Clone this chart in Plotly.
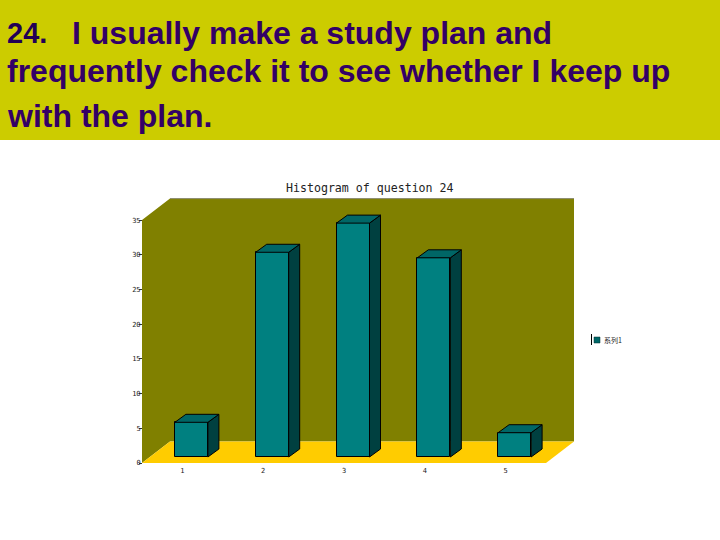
import plotly.graph_objects as go

# Data
categories = [1, 2, 3, 4, 5]
values = [5.0, 29.5, 33.7, 28.7, 3.5]
y_ticks = [0, 5, 10, 15, 20, 25, 30, 35]
series_name = "系列1"
title = "Histogram of question 24"
heading_lines = ["I usually make a study plan and",
                 "frequently check it to see whether I keep up",
                 "with the plan."]
heading_number = "24."

# Pseudo-3D projection, in axis units
UX, UY = 80.8, 6.94          # pixels per axis unit
WALL_DX, WALL_DY = 28 / UX, 21.5 / UY   # depth of the whole box
BAR_X, BAR_Y = 9 / UX, 6 / UY           # bar front plane offset
BAR_DX, BAR_DY = 11 / UX, 8 / UY        # bar depth
BAR_W = 33 / UX
X0, X1, YMAX = 0.5, 5.5, 35

def path(pts):
    return "M " + " L ".join(f"{x:.4f},{y:.4f}" for x, y in pts) + " Z"

fig = go.Figure()

# heading band
shapes = [dict(type="rect", xref="paper", yref="paper", x0=0, x1=1, y0=400 / 540, y1=1,
               fillcolor="#CCCC00", line_width=0, layer="below")]
# back + left wall
shapes.append(dict(type="path", layer="below", xref="x", yref="y", fillcolor="#808000",
                   line=dict(width=0),
                   path=path([(X0, 0), (X0, YMAX), (X0 + WALL_DX, YMAX + WALL_DY),
                              (X1 + WALL_DX, YMAX + WALL_DY), (X1 + WALL_DX, WALL_DY),
                              (X0 + WALL_DX, WALL_DY)])))
shapes.append(dict(type="line", layer="below", xref="x", yref="y", x0=X0 + WALL_DX, x1=X1 + WALL_DX,
                   y0=YMAX + WALL_DY, y1=YMAX + WALL_DY, line=dict(color="#8a8a70", width=1)))
# floor
shapes.append(dict(type="path", layer="below", xref="x", yref="y", fillcolor="#FFCC00",
                   line=dict(width=0),
                   path=path([(X0, 0), (X0 + WALL_DX, WALL_DY), (X1 + WALL_DX, WALL_DY), (X1, 0)])))

# front faces
fig.add_trace(go.Bar(x=[c + BAR_X for c in categories], y=values, base=BAR_Y, width=BAR_W,
                     marker=dict(color="#008080", line=dict(color="#000000", width=1)),
                     name=series_name, showlegend=False))

# sides and tops
for c, v in zip(categories, values):
    l = c + BAR_X - BAR_W / 2
    r = c + BAR_X + BAR_W / 2
    t = BAR_Y + v
    fig.add_trace(go.Scatter(x=[r, r + BAR_DX, r + BAR_DX, r, r],
                             y=[BAR_Y, BAR_Y + BAR_DY, t + BAR_DY, t, BAR_Y],
                             mode="lines", fill="toself", fillcolor="#004040",
                             line=dict(color="#000000", width=1), showlegend=False, hoverinfo="skip"))
    fig.add_trace(go.Scatter(x=[l, r, r + BAR_DX, l + BAR_DX, l],
                             y=[t, t, t + BAR_DY, t + BAR_DY, t],
                             mode="lines", fill="toself", fillcolor="#006666",
                             line=dict(color="#000000", width=1), showlegend=False, hoverinfo="skip"))

# legend key
shapes.append(dict(type="line", xref="paper", yref="paper", x0=591.5 / 720, x1=591.5 / 720,
                   y0=(540 - 345) / 540, y1=(540 - 334) / 540, line=dict(color="#000000", width=1)))
shapes.append(dict(type="rect", xref="paper", yref="paper", x0=594 / 720, x1=600 / 720,
                   y0=(540 - 343) / 540, y1=(540 - 337) / 540, fillcolor="#006868",
                   line=dict(color="#003030", width=0.5)))

def txt(s, px, py, size, color, family, anchor="left"):
    return dict(text=s, xref="paper", yref="paper", x=px / 720, y=(540 - py) / 540,
                xanchor=anchor, yanchor="middle", showarrow=False,
                font=dict(size=size, color=color, family=family))

SANS = "Liberation Sans"
DARK = "#330066"
annotations = [
    txt("<b>" + heading_number + "</b>", 5, 33, 29, "#220055", SANS),
    txt("<b>" + heading_lines[0] + "</b>", 70, 33, 32, DARK, SANS),
    txt("<b>" + heading_lines[1] + "</b>", 5, 71, 32, DARK, SANS),
    txt("<b>" + heading_lines[2] + "</b>", 5, 116, 32, DARK, SANS),
    txt(title, 370.5, 188, 11.6, "#222222", "DejaVu Sans Mono", "center"),
    txt(series_name, 602, 340, 7, "#222222", "Noto Sans CJK SC"),
]

fig.update_layout(
    width=720, height=540, margin=dict(l=0, r=0, t=0, b=0),
    paper_bgcolor="#FFFFFF", plot_bgcolor="rgba(0,0,0,0)",
    showlegend=False, shapes=shapes, annotations=annotations, bargap=0,
    xaxis=dict(domain=[0, 1], range=[1 - 182.4 / UX, 1 + (720 - 182.4) / UX],
               anchor="free", position=(540 - 463) / 540, tickvals=categories,
               ticktext=[str(c) for c in categories], showgrid=False, zeroline=False,
               showline=False, ticks="", ticklabelstandoff=2,
               tickfont=dict(size=7, color="#222222", family="DejaVu Sans Mono")),
    yaxis=dict(domain=[0, 1], range=[-(540 - 463) / UY, 463 / UY],
               anchor="free", position=142 / 720, tickvals=y_ticks, showgrid=False, zeroline=False,
               showline=False, ticks="outside", ticklen=3, tickcolor="#333333", ticklabelstandoff=-3,
               tickfont=dict(size=7, color="#222222", family="DejaVu Sans Mono")),
)
fig.write_html("out.html", config={"displayModeBar": False},
               post_script="document.body.style.margin='0';document.documentElement.style.overflow='hidden';")
